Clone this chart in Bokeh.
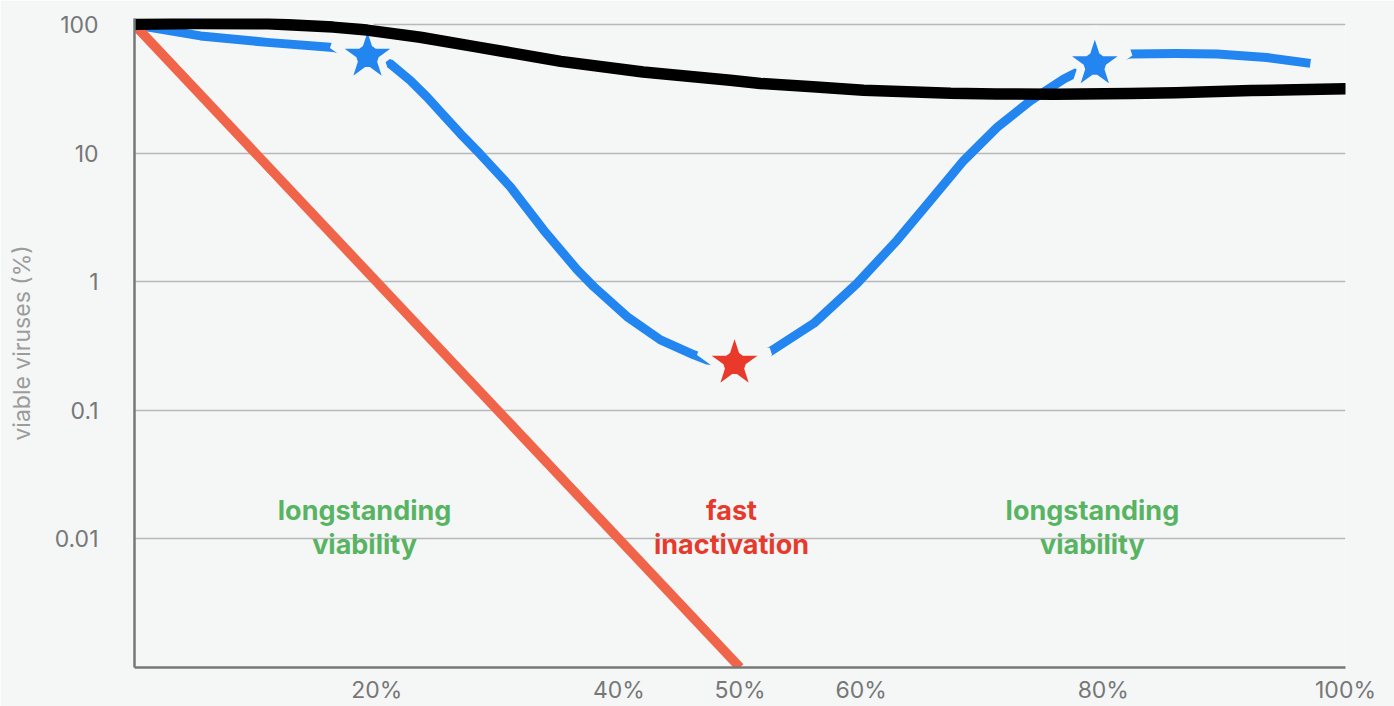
from bokeh.plotting import figure
from bokeh.models import Range1d, FixedTicker
from bokeh.embed import file_html
from bokeh.resources import INLINE
from bokeh.core.properties import value

# ---- data ----
blue_x = [0, 5.45, 10.96, 16.4, 19.24, 21.14, 22.79, 24.17, 25.54, 26.92, 28.57, 31.05, 33.8, 36.56, 37.93,
          40.68, 43.43, 46.19, 47.3, 49.55, 52.5, 56.1, 59.67, 62.98, 65.73, 68.48, 71.24, 73.99,
          76.74, 77.84, 79.3, 82.2, 86, 89.4, 93.5, 97.1]
blue_y = [100, 82, 73, 66.7, 57, 49.5, 36.8, 27.3, 19.7, 14.2, 9.8, 5.47, 2.52, 1.24, 0.917,
          0.536, 0.354, 0.271, 0.247, 0.233, 0.287, 0.476, 0.973, 2.11, 4.31, 8.81, 15.97, 25.7,
          37.9, 42.7, 49.8, 59.3, 59.8, 59.3, 55.7, 50.1]

black_x = [0, 5, 11, 16.4, 19.2, 23.6, 28, 35.2, 42, 49.2, 51.7, 56, 60.2, 67.4, 71.2, 76, 82.2, 86, 92.2, 100]
black_y = [101, 102.5, 102, 96, 91, 80, 68, 52, 43, 37, 35, 33, 31, 29.3, 29, 28.8, 29.2, 29.6, 30.8, 31.8]

red_x = [0, 50]
red_y = [100, 0.001]

blue_star_x = [19.24, 79.3]
blue_star_y = [57, 49.8]
red_star_x = [49.55]
red_star_y = [0.233]

y_ticks = [0.01, 0.1, 1, 10, 100]
y_labels = ["0.01", "0.1", "1", "10", "100"]
x_ticks = [20, 40, 50, 60, 80, 100]
x_labels = ["20%", "40%", "50%", "60%", "80%", "100%"]

green_text_x = [19.0, 79.1]
red_text_x = [49.3]
text_line1_y = 0.0167
text_line2_y = 0.0091

BG = "#f5f7f7"
FONT = "Inter"

p = figure(width=1394, height=706, y_axis_type="log", output_backend="svg",
           toolbar_location=None, x_range=Range1d(0, 100), y_range=Range1d(0.001, 112),
           background_fill_color=BG, border_fill_color=BG,
           min_border_left=134, min_border_right=49, min_border_top=18, min_border_bottom=38)
p.outline_line_color = None

p.xgrid.visible = False
p.ygrid.grid_line_color = "#b8b8b8"
p.ygrid.grid_line_width = 1.5
p.ygrid.ticker = FixedTicker(ticks=y_ticks)

for ax in (p.xaxis[0], p.yaxis[0]):
    ax.axis_line_color = "#777777"
    ax.axis_line_width = 2.5
    ax.major_tick_line_color = None
    ax.minor_tick_line_color = None
    ax.major_label_text_color = "#777777"
    ax.major_label_text_font = FONT
    ax.major_label_text_font_size = "23px"

p.yaxis.ticker = FixedTicker(ticks=y_ticks)
p.yaxis.major_label_overrides = {t: l for t, l in zip(y_ticks, y_labels)}
p.yaxis.major_label_standoff = 30
p.yaxis.axis_label = "viable viruses (%)"
p.yaxis.axis_label_text_font = FONT
p.yaxis.axis_label_text_font_style = "normal"
p.yaxis.axis_label_text_font_size = "23px"
p.yaxis.axis_label_text_color = "#9c9c9c"
p.yaxis.axis_label_standoff = 16

p.xaxis.ticker = FixedTicker(ticks=x_ticks)
p.xaxis.major_label_overrides = {t: l for t, l in zip(x_ticks, x_labels)}
p.xaxis.major_label_standoff = 2

p.line(blue_x, blue_y, line_color="#2385f0", line_width=9, line_join="round")
p.scatter(blue_star_x, blue_star_y, marker="star", size=74, fill_color="#2385f0",
          line_color=BG, line_width=8)
p.scatter(red_star_x, red_star_y, marker="star", size=74, fill_color="#e8392a",
          line_color=BG, line_width=8)
p.line(red_x, red_y, line_color="#f0644a", line_width=9.5)
p.line(black_x, black_y, line_color="#000000", line_width=11.5, line_cap="round", line_join="round")

for xs, t1, t2, col in ((green_text_x, "longstanding", "viability", "#58b462"),
                        (red_text_x, "fast", "inactivation", "#e63b2c")):
    p.text(xs, [text_line1_y] * len(xs), text=[t1] * len(xs), text_align="center",
           text_baseline="middle", text_color=col, text_font=value(FONT),
           text_font_size="27px", text_font_style="bold")
    p.text(xs, [text_line2_y] * len(xs), text=[t2] * len(xs), text_align="center",
           text_baseline="middle", text_color=col, text_font=value(FONT),
           text_font_size="27px", text_font_style="bold")

open("out.html", "w").write(file_html(p, INLINE))
